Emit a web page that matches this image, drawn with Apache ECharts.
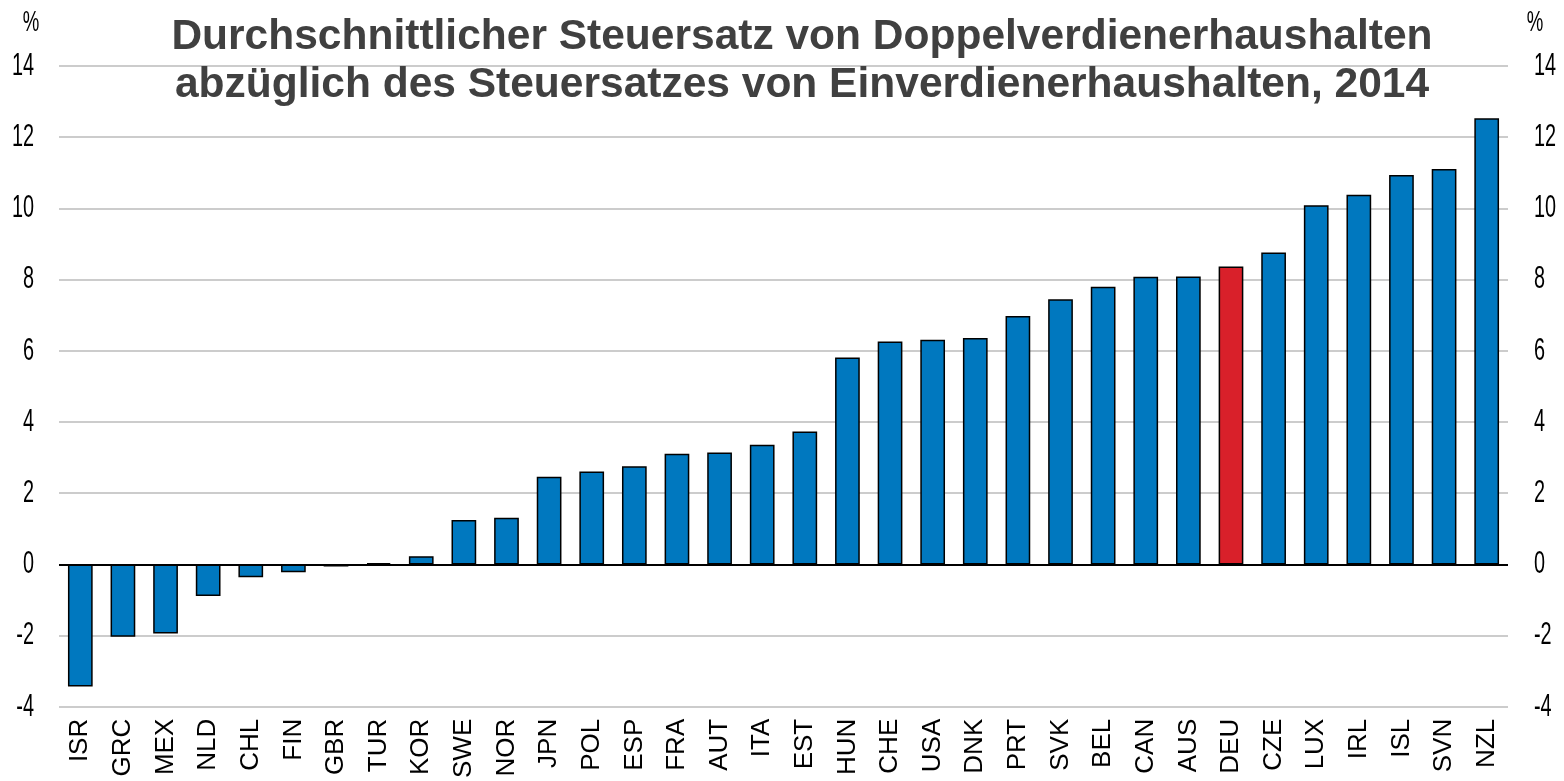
<!DOCTYPE html>
<html>
<head>
<meta charset="utf-8">
<script src="https://cdn.jsdelivr.net/npm/echarts@6/dist/echarts.min.js"></script>
<style>
  html, body { margin: 0; padding: 0; background: #fff; }
  #chart { width: 1564px; height: 781px; }
</style>
</head>
<body>
<div id="chart"></div>
<script>
    // data
    var countries = ['ISR', 'GRC', 'MEX', 'NLD', 'CHL', 'FIN', 'GBR', 'TUR', 'KOR', 'SWE', 'NOR',
        'JPN', 'POL', 'ESP', 'FRA', 'AUT', 'ITA', 'EST', 'HUN', 'CHE', 'USA', 'DNK', 'PRT',
        'SVK', 'BEL', 'CAN', 'AUS', 'DEU', 'CZE', 'LUX', 'IRL', 'ISL', 'SVN', 'NZL'];
    var values = [-3.43, -2.03, -1.94, -0.89, -0.36, -0.22, -0.06, 0.04, 0.23, 1.25, 1.31,
        2.46, 2.61, 2.76, 3.11, 3.14, 3.36, 3.73, 5.81, 6.26, 6.31, 6.36, 6.98,
        7.45, 7.8, 8.08, 8.09, 8.37, 8.76, 10.09, 10.38, 10.94, 11.11, 12.53];
    var highlighted = ['DEU'];
    var yTicks = [-4, -2, 0, 2, 4, 6, 8, 10, 12, 14];
    var titleLines = ['Durchschnittlicher Steuersatz von Doppelverdienerhaushalten',
        'abzüglich des Steuersatzes von Einverdienerhaushalten, 2014'];

    var blue = '#0078bf';
    var red = '#d9202a';
    var gridLeft = 59, gridRight = 56;
    var W = 1564;

    var seriesData = [];
    for (var i = 0; i < countries.length; i++) {
        var item = { value: values[i] };
        if (highlighted.indexOf(countries[i]) >= 0) {
            item.itemStyle = { color: red };
        }
        seriesData.push(item);
    }

    function yAxisFor(pos, showSplit) {
        return {
            type: 'value',
            position: pos,
            min: yTicks[0],
            max: yTicks[yTicks.length - 1],
            interval: 2,
            axisLine: { show: false },
            axisTick: { show: false },
            // labels are drawn below as narrow (condensed) text
            axisLabel: { show: false },
            splitLine: { show: showSplit, lineStyle: { color: '#cccccc', width: 2 } }
        };
    }

    var myChart = echarts.init(document.getElementById('chart'));
    var option = {
        animation: false,
        backgroundColor: '#fff',
        title: {
            text: titleLines.join('\n'),
            left: 797,
            top: 8,
            textAlign: 'center',
            textStyle: {
                color: '#404040',
                fontFamily: '"Liberation Sans", Arial, sans-serif',
                fontWeight: 'bold',
                fontSize: 42.5,
                lineHeight: 48
            }
        },
        grid: { left: gridLeft, right: gridRight, top: 66, bottom: 68, containLabel: false },
        xAxis: {
            type: 'category',
            data: countries,
            axisLine: { show: false, onZero: false },
            axisTick: { show: false },
            axisLabel: {
                rotate: 90,
                margin: 12,
                interval: 0,
                color: '#000',
                fontFamily: '"Liberation Sans", Arial, sans-serif',
                fontSize: 26
            }
        },
        yAxis: [yAxisFor('left', true), yAxisFor('right', false)],
        series: [{
            type: 'bar',
            data: seriesData,
            barWidth: '58%',
            itemStyle: { color: blue, borderColor: '#000', borderWidth: 1.5 },
            markLine: {
                silent: true,
                symbol: 'none',
                label: { show: false },
                lineStyle: { color: '#000', width: 2, type: 'solid' },
                data: [{ yAxis: 0 }]
            }
        }]
    };
    myChart.setOption(option);

    // condensed tick labels, placed through the axis scale
    function narrowText(txt, x, y, align, size, vAlign) {
        return {
            type: 'text',
            x: x,
            y: y,
            scaleX: 0.62,
            silent: true,
            style: {
                text: txt,
                x: 0,
                y: 0,
                align: align,
                verticalAlign: vAlign || 'middle',
                fill: '#000',
                font: size + 'px "Liberation Sans", Arial, sans-serif'
            }
        };
    }
    var graphics = [];
    yTicks.forEach(function (v) {
        var py = myChart.convertToPixel({ yAxisIndex: 0 }, v);
        graphics.push(narrowText(String(v), gridLeft - 25, py, 'right', 32));
        graphics.push(narrowText(String(v), W - gridRight + 26, py, 'left', 32));
    });
    graphics.push(narrowText('%', 31, 8, 'center', 30, 'top'));
    graphics.push(narrowText('%', 1535, 8, 'center', 30, 'top'));
    myChart.setOption({ graphic: graphics });
</script>
</body>
</html>
